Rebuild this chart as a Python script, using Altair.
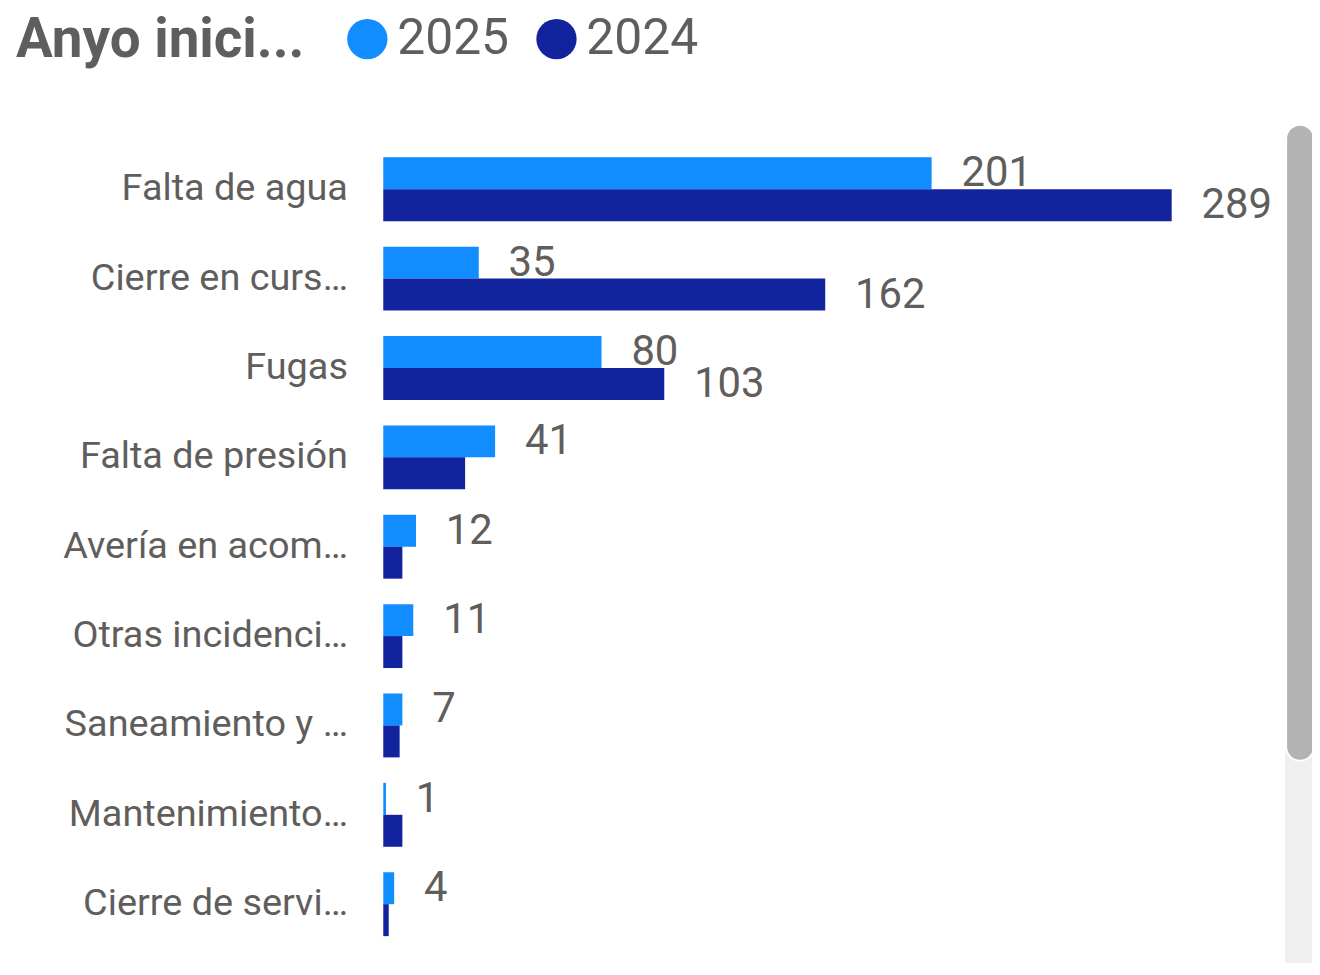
import altair as alt
import pandas as pd

categories = ["Falta de agua", "Cierre en curs…", "Fugas", "Falta de presión",
              "Avería en acom…", "Otras incidenci…", "Saneamiento y …",
              "Mantenimiento…", "Cierre de servi…"]
values_2025 = [201, 35, 80, 41, 12, 11, 7, 1, 4]
values_2024 = [289, 162, 103, 30, 7, 7, 6, 7, 2]
years = ["2025", "2024"]
colors = ["#118DFF", "#12239E"]

rows = []
for c, v in zip(categories, values_2025):
    rows.append({"cat": c, "year": "2025", "value": v})
for c, v in zip(categories, values_2024):
    rows.append({"cat": c, "year": "2024", "value": v})
df = pd.DataFrame(rows)

TXT = "#605E5C"

y_enc = alt.Y("cat:N", sort=categories,
              scale=alt.Scale(paddingInner=0.285, paddingOuter=0.1425),
              axis=alt.Axis(title=None, ticks=False, domain=False, grid=False,
                            labelFont="Roboto", labelFontSize=38, labelColor=TXT,
                            labelPadding=36, labelLimit=400))
yoff = alt.YOffset("year:N", sort=years, scale=alt.Scale(domain=years, paddingInner=0, paddingOuter=0))
x_enc = alt.X("value:Q", scale=alt.Scale(domain=[0, 320]), axis=None)

base = alt.Chart(df)

labels = base.mark_text(align="left", baseline="middle", dx=30, font="Roboto",
                        fontSize=42, color=TXT).encode(
    x=x_enc, y=y_enc, yOffset=yoff, text="value:Q"
).transform_filter("datum.year == '2025' || datum.value > 50")

bars = base.mark_bar().encode(
    x=x_enc, y=y_enc, yOffset=yoff,
    color=alt.Color("year:N", sort=years,
                    scale=alt.Scale(domain=years, range=colors),
                    legend=alt.Legend(title="Anyo inici...", orient="none",
                                      legendX=-369, legendY=-131,
                                      direction="horizontal", titleOrient="left",
                                      titleFont="Roboto", titleFontSize=55,
                                      titleFontWeight="bold", titleColor=TXT,
                                      titleLimit=600, titleAnchor="start",
                                      titlePadding=38, titleBaseline="top",
                                      labelFont="Roboto", labelFontSize=50,
                                      labelColor=TXT, labelOffset=5, labelLimit=300,
                                      symbolType="circle", symbolSize=1640,
                                      symbolStrokeWidth=0, columnPadding=22))
)

scroll_data = alt.Data(values=[{"k": 1}])
track = alt.Chart(scroll_data).mark_rect(color="#EFEFEF", cornerRadius=14).encode(
    x=alt.value(906), x2=alt.value(936), y=alt.value(-20), y2=alt.value(840))
thumb = alt.Chart(scroll_data).mark_rect(color="#B3B3B3", cornerRadius=14,
                                         stroke="white", strokeWidth=2).encode(
    x=alt.value(907), x2=alt.value(935), y=alt.value(-20), y2=alt.value(619))

chart = alt.layer(track, thumb, labels, bars).properties(
    width=877, height=808,
    background="white",
    autosize=alt.AutoSizeParams(type="none"),
    padding={"left": 377, "top": 135, "right": 56, "bottom": 12}
).configure_view(stroke=None)

chart.save("out.html", embed_options={"renderer": "svg", "actions": False})
